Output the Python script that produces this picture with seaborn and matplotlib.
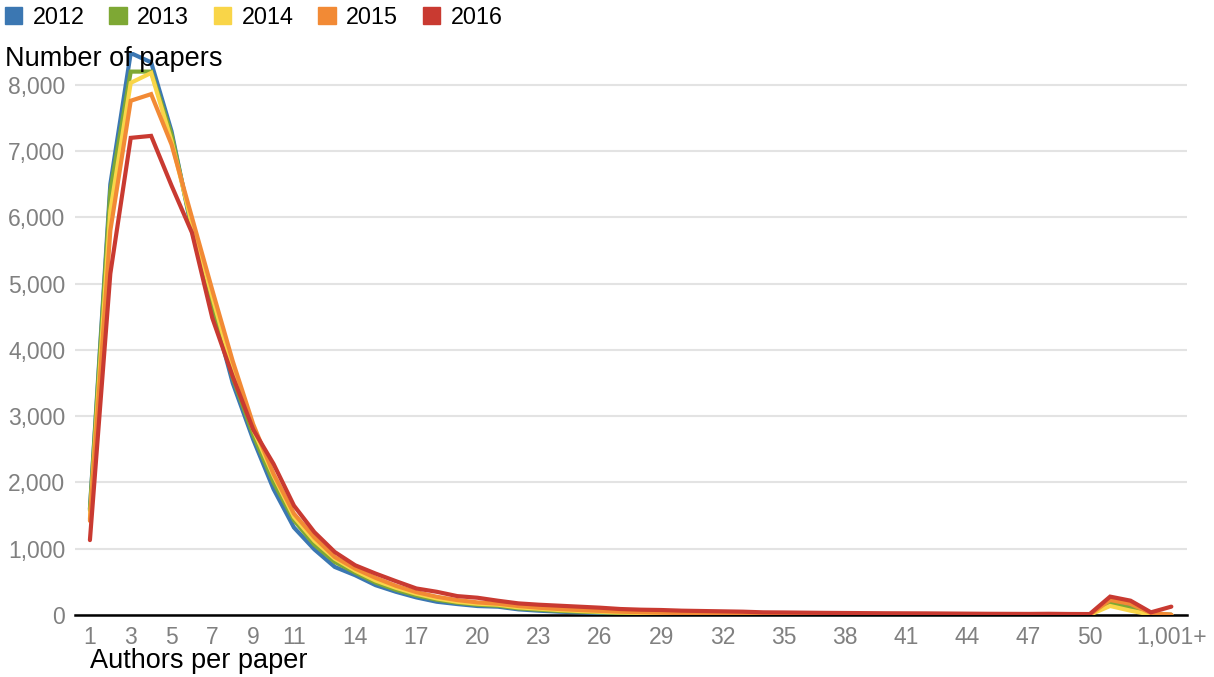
import matplotlib
matplotlib.use("Agg")
import matplotlib.pyplot as plt
from matplotlib.patches import Patch
from matplotlib.ticker import FuncFormatter
import seaborn as sns
import pandas as pd

# categories on the x axis (number of authors)
authors = [str(n) for n in range(1, 51)] + ["51–100", "101–500", "501–1,000", "1,001+"]
shown_ticks = ["1", "3", "5", "7", "9", "11", "14", "17", "20", "23", "26", "29",
               "32", "35", "38", "41", "44", "47", "50", "1,001+"]

years = ["2012", "2013", "2014", "2015", "2016"]
colors = ["#3b77b2", "#7ea834", "#f9d548", "#f28a35", "#c93a31"]

papers_2012 = [1600, 6500, 8480, 8340, 7300, 5800, 4650, 3500, 2650, 1900, 1320, 990,
               725, 600, 450, 350, 265, 200, 165, 135, 125, 85,
               65, 50, 40, 30, 22, 18, 15, 12, 10, 8, 7, 6,
               5, 5, 4, 4, 4, 3, 3, 3, 3, 2, 2, 2, 2, 2, 2, 2,
               196, 126, 25, 2]
papers_2013 = [1580, 6400, 8200, 8200, 7250, 5850, 4700, 3580, 2720, 2000, 1430, 1060,
               800, 640, 490, 380, 295, 230, 185, 155, 140, 100,
               80, 62, 50, 40, 30, 24, 20, 16, 13, 11, 9, 8,
               7, 6, 6, 5, 5, 4, 4, 4, 3, 3, 3, 3, 3, 3, 2, 2,
               176, 100, 15, 2]
papers_2014 = [1450, 6100, 8030, 8180, 7150, 5900, 4800, 3700, 2800, 2100, 1480, 1120,
               850, 670, 520, 410, 320, 250, 200, 170, 155, 115,
               95, 75, 60, 48, 38, 30, 25, 20, 17, 14, 12, 10,
               9, 8, 7, 7, 6, 6, 5, 5, 5, 4, 4, 4, 4, 3, 3, 3,
               136, 65, 5, 2]
papers_2015 = [1420, 5800, 7760, 7860, 7100, 6000, 4900, 3830, 2880, 2130, 1530, 1170,
               875, 700, 560, 440, 345, 275, 225, 190, 170, 135,
               110, 90, 75, 62, 50, 42, 35, 29, 25, 21, 18, 15,
               14, 13, 12, 11, 10, 9, 9, 8, 8, 7, 7, 6, 6, 6, 5, 5,
               226, 166, 30, 5]
papers_2016 = [1130, 5150, 7200, 7230, 6480, 5770, 4480, 3600, 2800, 2280, 1650, 1250,
               950, 750, 625, 510, 400, 350, 285, 260, 215, 175,
               155, 140, 125, 110, 90, 80, 75, 65, 60, 55, 50, 40,
               38, 35, 32, 30, 28, 26, 25, 24, 22, 20, 18, 17, 16, 18, 15, 14,
               277, 216, 40, 126]

series = [papers_2012, papers_2013, papers_2014, papers_2015, papers_2016]
frames = []
for year, vals in zip(years, series):
    frames.append(pd.DataFrame({"pos": range(len(authors)), "authors": authors,
                                "papers": vals, "year": year}))
df = pd.concat(frames, ignore_index=True)

sns.set_style("white")
plt.rcParams['font.family'] = ['Liberation Sans', 'DejaVu Sans']

fig = plt.figure(figsize=(12.14, 6.77), dpi=100)
ax = fig.add_axes([0.0618, 0.0916, 0.916, 0.832])

sns.lineplot(data=df, x="pos", y="papers", hue="year", palette=colors,
             linewidth=3, legend=False, ax=ax, solid_joinstyle="miter")

ax.set_xlim(-0.73, 53.77)
ax.set_ylim(0, 8500)
ax.set_yticks(range(0, 8001, 1000))
ax.yaxis.set_major_formatter(FuncFormatter(lambda v, p: f"{int(v):,}"))
ax.set_xticks([authors.index(t) for t in shown_ticks])
ax.set_xticklabels(shown_ticks)
ax.tick_params(axis="both", length=0, labelsize=16.5, colors="#808080")
ax.tick_params(axis="y", pad=7)
ax.tick_params(axis="x", pad=8)
ax.grid(axis="y", color="#e3e3e3", linewidth=1.5)
ax.set_axisbelow(True)
for s in ["top", "right", "left"]:
    ax.spines[s].set_visible(False)
ax.spines["bottom"].set_color("black")
ax.spines["bottom"].set_linewidth(1.8)
ax.spines["bottom"].set_zorder(1)

ax.set_xlabel("")
ax.set_ylabel("")
fig.text(5 / 1214, 1 - 66 / 677, "Number of papers", fontsize=19.5, color="black",
         ha="left", va="baseline")
fig.text(90 / 1214, 1 - 668 / 677, "Authors per paper", fontsize=19.5, color="black",
         ha="left", va="baseline")

handles = [Patch(facecolor=c, edgecolor=c) for c in colors]
fig.legend(handles, years, loc="upper left", bbox_to_anchor=(-0.0075, 1.012), ncol=5,
           frameon=False, fontsize=16.8, labelcolor="black", handlelength=0.75,
           handleheight=0.75, handletextpad=0.45, columnspacing=1.05, borderaxespad=0.2)

fig.savefig("out.png", dpi=100)
